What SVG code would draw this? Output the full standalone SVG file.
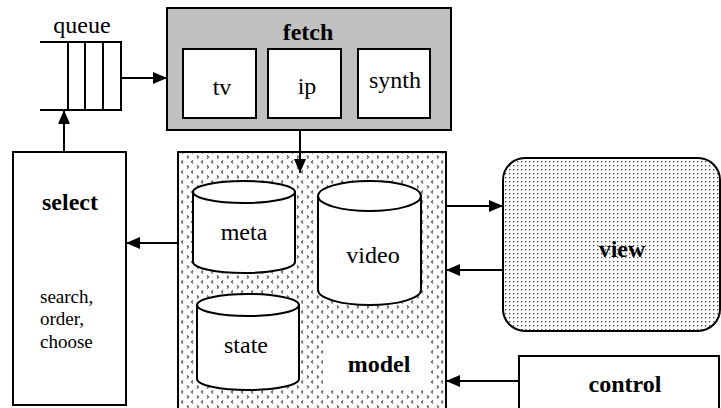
<svg xmlns="http://www.w3.org/2000/svg" width="721" height="408" viewBox="0 0 721 408">
  <defs>
    <style>
      .box { stroke: #000; stroke-width: 2; }
      .line { stroke: #000; stroke-width: 2; fill: none; }
      .mid { text-anchor: middle; }
    </style>
    <marker id="arrow" viewBox="0 0 14 12" refX="14" refY="6" markerWidth="14" markerHeight="12" markerUnits="userSpaceOnUse" orient="auto">
      <path d="M0,0 L14,6 L0,12 Z" fill="#000"/>
    </marker>
    <!-- chevron texture for the model area -->
    <pattern id="chevrons" width="10" height="10" patternUnits="userSpaceOnUse">
      <rect width="10" height="10" fill="#fff"/>
      <path d="M3,0.5 L1.5,2 L3,3.5" stroke="#555" stroke-width="1.2" fill="none"/>
      <path d="M7,5.5 L8.5,7 L7,8.5" stroke="#555" stroke-width="1.2" fill="none"/>
    </pattern>
    <!-- fine dot texture for the view area -->
    <pattern id="dots" width="4" height="4" patternUnits="userSpaceOnUse">
      <rect width="4" height="4" fill="#fff"/>
      <rect x="1" y="1" width="1.3" height="1.3" fill="#444"/>
    </pattern>
  </defs>

  <g font-family="Liberation Serif" font-size="24" fill="#000">
  <!-- queue -->
  <g id="queue">
    <text class="mid" x="82" y="33">queue</text>
    <path class="line" d="M40,42 H121 V110 H40 M68,42 V110 M85,42 V110 M103,42 V110"/>
  </g>

  <!-- fetch -->
  <g id="fetch">
    <rect class="box" x="167" y="8" width="284" height="122" fill="#c0c0c0"/>
    <text class="mid" font-weight="bold" x="308" y="40">fetch</text>
    <rect class="box" x="183" y="49" width="73" height="69" fill="#fff"/>
    <text class="mid" x="222" y="95">tv</text>
    <rect class="box" x="268" y="49" width="73" height="69" fill="#fff"/>
    <text class="mid" x="307" y="94">ip</text>
    <rect class="box" x="358" y="49" width="72" height="69" fill="#fff"/>
    <text class="mid" x="395" y="88">synth</text>
  </g>

  <!-- model -->
  <g id="model">
    <rect class="box" x="178" y="152" width="268" height="260" fill="url(#chevrons)"/>
    <rect x="323" y="338" width="107" height="52" fill="#fff"/>
    <text class="mid" font-weight="bold" x="379" y="372">model</text>
  </g>

  <g id="meta">
    <path class="box" fill="#fff" d="M193,192 V262 A51,11 0 0 0 295,262 V192 Z"/>
    <ellipse class="box" fill="#fff" cx="244" cy="192" rx="51" ry="11"/>
    <text class="mid" x="244" y="240">meta</text>
  </g>

  <g id="video">
    <path class="box" fill="#fff" d="M318,196 V290 A51.5,15 0 0 0 421,290 V196 Z"/>
    <ellipse class="box" fill="#fff" cx="369.5" cy="196" rx="51.5" ry="15"/>
    <text class="mid" x="373" y="263">video</text>
  </g>

  <g id="state">
    <path class="box" fill="#fff" d="M197,305 V379 A51,11 0 0 0 299,379 V305 Z"/>
    <ellipse class="box" fill="#fff" cx="248" cy="305" rx="51" ry="11"/>
    <text class="mid" x="246" y="353">state</text>
  </g>

  <!-- select -->
  <g id="select">
    <rect class="box" x="13" y="152" width="113" height="253" fill="#fff"/>
    <text class="mid" font-weight="bold" x="70" y="210">select</text>
    <g font-size="19">
      <text x="40" y="303">search,</text>
      <text x="40" y="325">order,</text>
      <text x="40" y="348">choose</text>
    </g>
  </g>

  <!-- view -->
  <g id="view">
    <rect class="box" x="503" y="158" width="217" height="173" rx="22" ry="22" fill="url(#dots)"/>
    <text class="mid" font-weight="bold" x="622" y="257">view</text>
  </g>

  <!-- control -->
  <g id="control">
    <rect class="box" x="519" y="356" width="200" height="60" fill="#fff"/>
    <text class="mid" font-weight="bold" x="625" y="392">control</text>
  </g>
  </g>

  <!-- connectors -->
  <g id="connectors">
    <line class="line" x1="121" y1="78" x2="167" y2="78" marker-end="url(#arrow)"/>
    <line class="line" x1="64" y1="152" x2="64" y2="110" marker-end="url(#arrow)"/>
    <line class="line" x1="300" y1="130" x2="300" y2="173" marker-end="url(#arrow)"/>
    <line class="line" x1="178" y1="243" x2="126" y2="243" marker-end="url(#arrow)"/>
    <line class="line" x1="446" y1="206" x2="503" y2="206" marker-end="url(#arrow)"/>
    <line class="line" x1="503" y1="270" x2="446" y2="270" marker-end="url(#arrow)"/>
    <line class="line" x1="519" y1="381" x2="446" y2="381" marker-end="url(#arrow)"/>
  </g>
</svg>
